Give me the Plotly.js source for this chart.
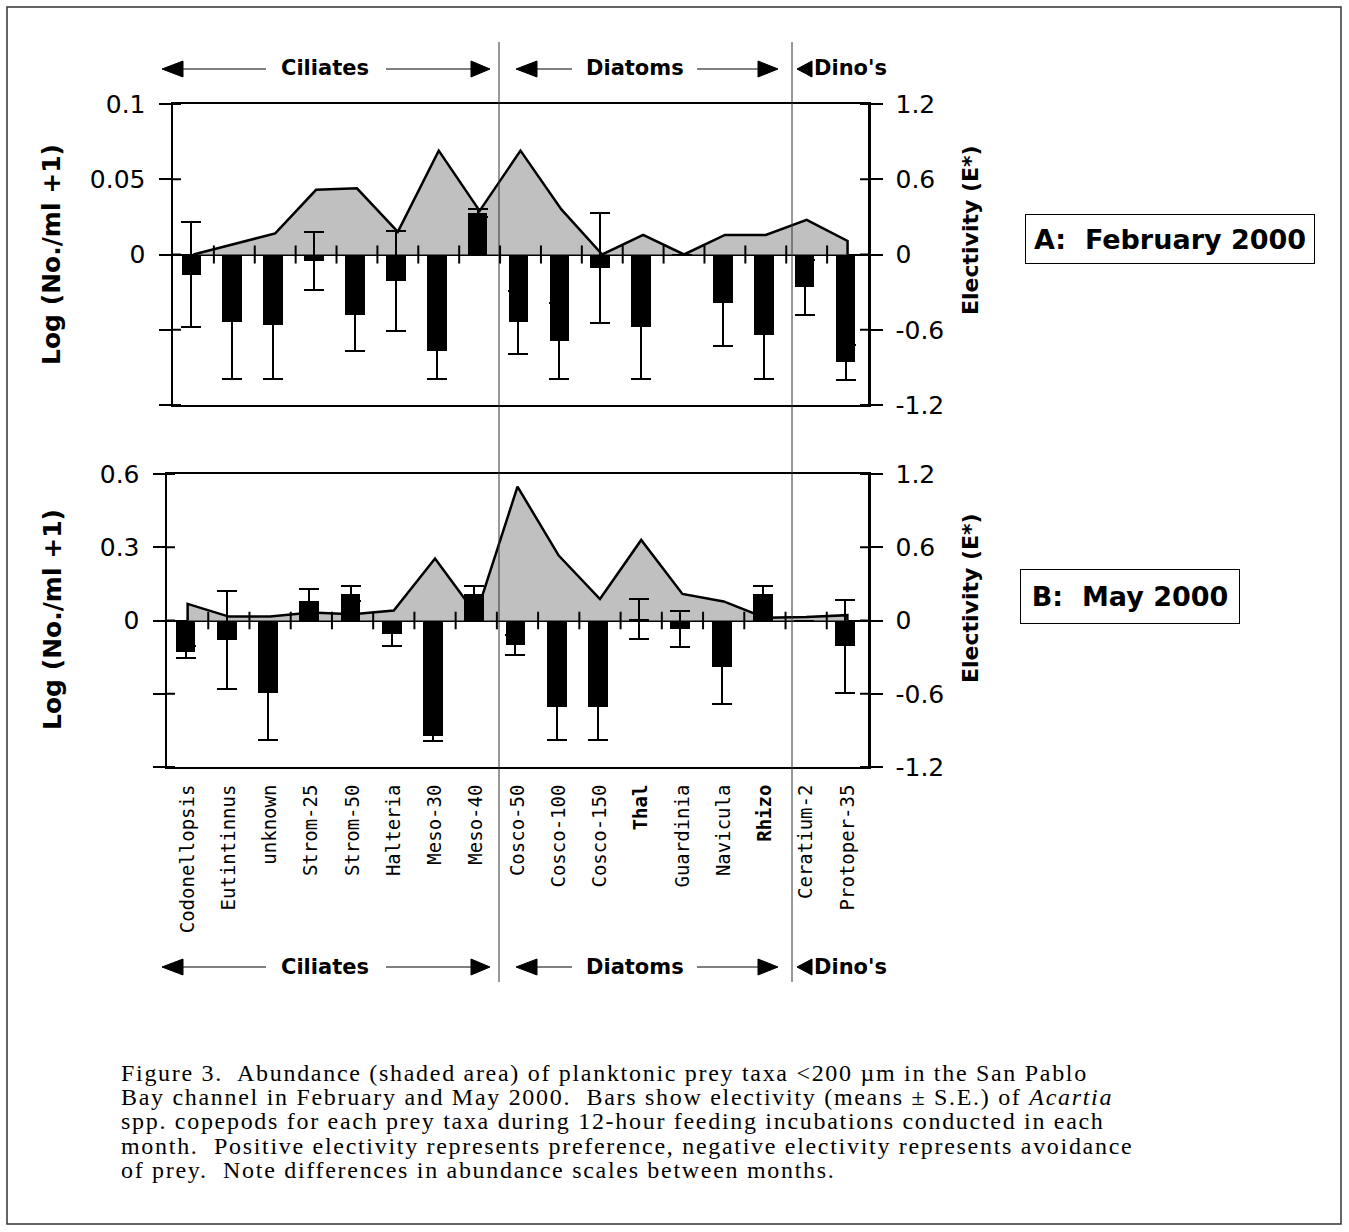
<!DOCTYPE html>
<html><head><meta charset="utf-8">
<script src="https://cdn.plot.ly/plotly-3.0.1.min.js"></script>
<style>html,body{margin:0;padding:0;background:#fff}#chart{width:1349px;height:1232px}</style>
</head><body><div id="chart"></div>
<script>
// ---- data ----
const categories = ['Codonellopsis','Eutintinnus','unknown','Strom-25','Strom-50','Halteria','Meso-30','Meso-40','Cosco-50','Cosco-100','Cosco-150','Thal','Guardinia','Navicula','Rhizo','Ceratium-2','Protoper-35'];
const tickLabels = ['Codonellopsis','Eutintinnus','unknown','Strom-25','Strom-50','Halteria','Meso-30','Meso-40','Cosco-50','Cosco-100','Cosco-150','<b>Thal</b>','Guardinia','Navicula','<b>Rhizo</b>','Ceratium-2','Protoper-35'];

const febAbundance  = [0, 0.007, 0.014, 0.043, 0.044, 0.015, 0.069, 0.029, 0.069, 0.030, 0, 0.013, 0, 0.013, 0.013, 0.023, 0.009];
const febElectivity = [-0.16, -0.54, -0.56, -0.05, -0.48, -0.21, -0.77, 0.33, -0.54, -0.69, -0.11, -0.58, 0, -0.39, -0.64, -0.26, -0.86];
const febSE         = [0.42, 0.45, 0.43, 0.23, 0.29, 0.40, 0.22, 0.03, 0.25, 0.30, 0.44, 0.41, 0, 0.34, 0.35, 0.22, 0.14];

const mayAbundance  = [0.068, 0.016, 0.016, 0.033, 0.026, 0.041, 0.254, 0.025, 0.548, 0.266, 0.088, 0.33, 0.109, 0.078, 0.011, 0.014, 0.022];
const mayElectivity = [-0.26, -0.16, -0.59, 0.16, 0.22, -0.11, -0.95, 0.22, -0.20, -0.71, -0.71, 0.01, -0.07, -0.38, 0.22, 0, -0.21];
const maySE         = [0.05, 0.40, 0.39, 0.10, 0.06, 0.10, 0.035, 0.06, 0.08, 0.27, 0.27, 0.165, 0.15, 0.30, 0.06, 0, 0.38];

const leftTicksFeb = [-0.1, -0.05, 0, 0.05, 0.1];
const leftTextFeb  = ['', '', '0', '0.05', '0.1'];
const leftTicksMay = [-0.6, -0.3, 0, 0.3, 0.6];
const leftTextMay  = ['', '', '0', '0.3', '0.6'];
const rightTicks = [-1.2, -0.6, 0, 0.6, 1.2];
const rightText  = ['-1.2', '-0.6', '0', '0.6', '1.2'];

const groupNames = ['Ciliates', 'Diatoms', "Dino's"];
const panelLabels = ['A:\u00a0\u00a0February 2000', 'B:\u00a0\u00a0May 2000'];
const yTitleLeft = 'Log (No./ml +1)';
const yTitleRight = 'Electivity (E*)';
const captionLines = [
  'Figure 3.\u00a0 Abundance (shaded area) of planktonic prey taxa &lt;200 µm in the San Pablo',
  'Bay channel in February and May 2000.\u00a0 Bars show electivity (means ± S.E.) of <i>Acartia</i>',
  'spp. copepods for each prey taxa during 12-hour feeding incubations conducted in each',
  'month.\u00a0 Positive electivity represents preference, negative electivity represents avoidance',
  'of prey.\u00a0 Note differences in abundance scales between months.'
];

// ---- helpers ----
const W = 1349, H = 1232;
const px = x => x / W;
const py = y => 1 - y / H;

function areaTrace(vals, xa, ya) {
  return {
    type: 'scatter', mode: 'lines',
    x: [categories[0]].concat(categories, [categories[categories.length - 1]]),
    y: [0].concat(vals, [0]),
    xaxis: xa, yaxis: ya,
    fill: 'tozeroy', fillcolor: '#c0c0c0',
    line: {color: '#000', width: 2.5},
    hoverinfo: 'skip', showlegend: false
  };
}
function barTrace(vals, se, xa, ya) {
  return {
    type: 'bar', x: categories, y: vals, xaxis: xa, yaxis: ya,
    width: 0.48, offset: -0.29,
    marker: {color: '#000', line: {width: 0}},
    error_y: {type: 'data', array: se, visible: true, color: '#000', thickness: 2, width: 10},
    hoverinfo: 'skip', showlegend: false
  };
}

const data = [
  areaTrace(febAbundance, 'x2', 'y3'),
  barTrace(febElectivity, febSE, 'x2', 'y4'),
  areaTrace(mayAbundance, 'x', 'y'),
  barTrace(mayElectivity, maySE, 'x', 'y2')
];

const tickFont = {family: 'DejaVu Sans', size: 25, color: '#000'};
function leftAxis(domain, range, tv, tt) {
  return {
    domain: domain, range: range, tickvals: tv, ticktext: tt,
    showline: true, linecolor: '#000', linewidth: 2.5,
    ticks: 'outside', ticklen: 12, tickwidth: 2, tickcolor: '#000',
    ticklabelstandoff: 8,
    zeroline: true, zerolinecolor: '#000', zerolinewidth: 2,
    showgrid: false, tickfont: tickFont, fixedrange: true
  };
}
function rightAxis(over, anchor, range) {
  return {
    overlaying: over, anchor: anchor, side: 'right', range: range,
    tickvals: rightTicks, ticktext: rightText,
    showline: true, linecolor: '#000', linewidth: 2.5,
    ticks: 'outside', ticklen: 12, tickwidth: 2, tickcolor: '#000',
    ticklabelstandoff: 8,
    zeroline: false, showgrid: false, tickfont: tickFont, fixedrange: true
  };
}

// ---- shapes ----
const shapes = [];
shapes.push({type: 'rect', xref: 'paper', yref: 'paper', x0: px(7), x1: px(1341), y0: py(1224), y1: py(7),
  line: {color: '#333', width: 1.5}, fillcolor: 'rgba(0,0,0,0)'});
[499, 792].forEach(xx => shapes.push({type: 'line', xref: 'paper', yref: 'paper',
  x0: px(xx), x1: px(xx), y0: py(42), y1: py(982), line: {color: '#333', width: 1}}));
for (let k = 0; k < categories.length - 1; k++) {
  shapes.push({type: 'line', xref: 'x2', yref: 'y3', x0: k + 0.5, x1: k + 0.5, y0: -0.006, y1: 0.006, line: {color: '#000', width: 2}});
  shapes.push({type: 'line', xref: 'x', yref: 'y', x0: k + 0.5, x1: k + 0.5, y0: -0.036, y1: 0.036, line: {color: '#000', width: 2}});
}
leftTicksFeb.forEach(v => shapes.push({type: 'line', xref: 'paper', yref: 'y3', x0: px(173), x1: px(181), y0: v, y1: v, line: {color: '#000', width: 2}}));
leftTicksMay.forEach(v => shapes.push({type: 'line', xref: 'paper', yref: 'y', x0: px(167), x1: px(175), y0: v, y1: v, line: {color: '#000', width: 2}}));
rightTicks.forEach(v => {
  shapes.push({type: 'line', xref: 'paper', yref: 'y4', x0: px(860), x1: px(868), y0: v, y1: v, line: {color: '#000', width: 2}});
  shapes.push({type: 'line', xref: 'paper', yref: 'y2', x0: px(860), x1: px(868), y0: v, y1: v, line: {color: '#000', width: 2}});
});
const arrowSpecs = [
  {tipL: 162, baseL: 183, l1: [183, 266], l2: [386, 471], baseR: 471, tipR: 490},
  {tipL: 516, baseL: 537, l1: [537, 572], l2: [697, 758], baseR: 758, tipR: 778},
  {tipL: 797, baseL: 812}
];
function tri(tip, base, yy) {
  return {type: 'path', xref: 'paper', yref: 'paper',
    path: 'M' + px(tip) + ',' + py(yy) + ' L' + px(base) + ',' + py(yy - 8) + ' L' + px(base) + ',' + py(yy + 8) + ' Z',
    fillcolor: '#000', line: {color: '#000', width: 1}};
}
[69, 967].forEach(yy => {
  arrowSpecs.forEach(s => {
    shapes.push(tri(s.tipL, s.baseL, yy));
    if (s.l1) {
      shapes.push({type: 'line', xref: 'paper', yref: 'paper', x0: px(s.l1[0]), x1: px(s.l1[1]), y0: py(yy), y1: py(yy), line: {color: '#000', width: 1}});
      shapes.push({type: 'line', xref: 'paper', yref: 'paper', x0: px(s.l2[0]), x1: px(s.l2[1]), y0: py(yy), y1: py(yy), line: {color: '#000', width: 1}});
      shapes.push(tri(s.tipR, s.baseR, yy));
    }
  });
});

// ---- annotations ----
const boldFont = (size) => ({family: 'DejaVu Sans', size: size, color: '#000', weight: 'bold'});
const annotations = [];
const groupX = [{x: 325, anchor: 'center'}, {x: 635, anchor: 'center'}, {x: 812, anchor: 'left'}];
[68, 967].forEach(yy => {
  groupNames.forEach((g, i) => annotations.push({text: g, xref: 'paper', yref: 'paper', x: px(groupX[i].x), y: py(yy),
    xanchor: groupX[i].anchor, yanchor: 'middle', showarrow: false, font: boldFont(21)}));
});
[[255, 230], [620, 598]].forEach(([yl, yr]) => {
  annotations.push({text: yTitleLeft, textangle: -90, xref: 'paper', yref: 'paper', x: px(52), y: py(yl),
    xanchor: 'center', yanchor: 'middle', showarrow: false, font: boldFont(25)});
  annotations.push({text: yTitleRight, textangle: -90, xref: 'paper', yref: 'paper', x: px(970), y: py(yr),
    xanchor: 'center', yanchor: 'middle', showarrow: false, font: boldFont(22)});
});
annotations.push({text: panelLabels[0], xref: 'paper', yref: 'paper', x: px(1170), y: py(239), xanchor: 'center', yanchor: 'middle',
  showarrow: false, font: boldFont(27), bordercolor: '#000', borderwidth: 1, borderpad: 1, bgcolor: '#fff', width: 286, height: 46});
annotations.push({text: panelLabels[1], xref: 'paper', yref: 'paper', x: px(1130), y: py(596), xanchor: 'center', yanchor: 'middle',
  showarrow: false, font: boldFont(27), bordercolor: '#000', borderwidth: 1, borderpad: 1, bgcolor: '#fff', width: 216, height: 51});
const capY = [1073, 1097, 1121, 1146, 1170];
captionLines.forEach((t, i) => annotations.push({
  text: '<span style="letter-spacing:1.7px">' + t + '</span>',
  xref: 'paper', yref: 'paper', x: px(119), y: py(capY[i]),
  xanchor: 'left', yanchor: 'middle', showarrow: false, align: 'left',
  font: {family: 'Liberation Serif', size: 24, color: '#000'}}));

const layout = {
  width: W, height: H,
  margin: {l: 0, r: 0, t: 0, b: 0, pad: 0},
  paper_bgcolor: '#fff', plot_bgcolor: 'rgba(0,0,0,0)',
  showlegend: false, bargap: 0,
  font: {family: 'DejaVu Sans', color: '#000'},
  xaxis: {
    domain: [px(167), px(868)], anchor: 'y', type: 'category', categoryarray: categories, range: [-0.5, 16.5],
    tickvals: categories, ticktext: tickLabels, tickangle: -90,
    showline: true, mirror: true, linecolor: '#000', linewidth: 2,
    ticks: '', ticklabelstandoff: 8, showgrid: false, zeroline: false, fixedrange: true,
    tickfont: {family: 'DejaVu Sans Mono', size: 19, color: '#000'}
  },
  xaxis2: {
    domain: [px(173), px(868)], anchor: 'y3', type: 'category', categoryarray: categories, range: [-0.5, 16.5],
    showticklabels: false, showline: true, mirror: true, linecolor: '#000', linewidth: 2,
    ticks: '', showgrid: false, zeroline: false, fixedrange: true
  },
  yaxis: leftAxis([py(767), py(474)], [-0.6, 0.6], leftTicksMay, leftTextMay),
  yaxis2: rightAxis('y', 'x', [-1.2, 1.2]),
  yaxis3: Object.assign(leftAxis([py(405), py(104)], [-0.1, 0.1], leftTicksFeb, leftTextFeb), {anchor: 'x2'}),
  yaxis4: rightAxis('y3', 'x2', [-1.2, 1.2]),
  shapes: shapes,
  annotations: annotations
};
layout.yaxis.anchor = 'x';

Plotly.newPlot('chart', data, layout, {staticPlot: true, displayModeBar: false});
</script>
</body></html>
